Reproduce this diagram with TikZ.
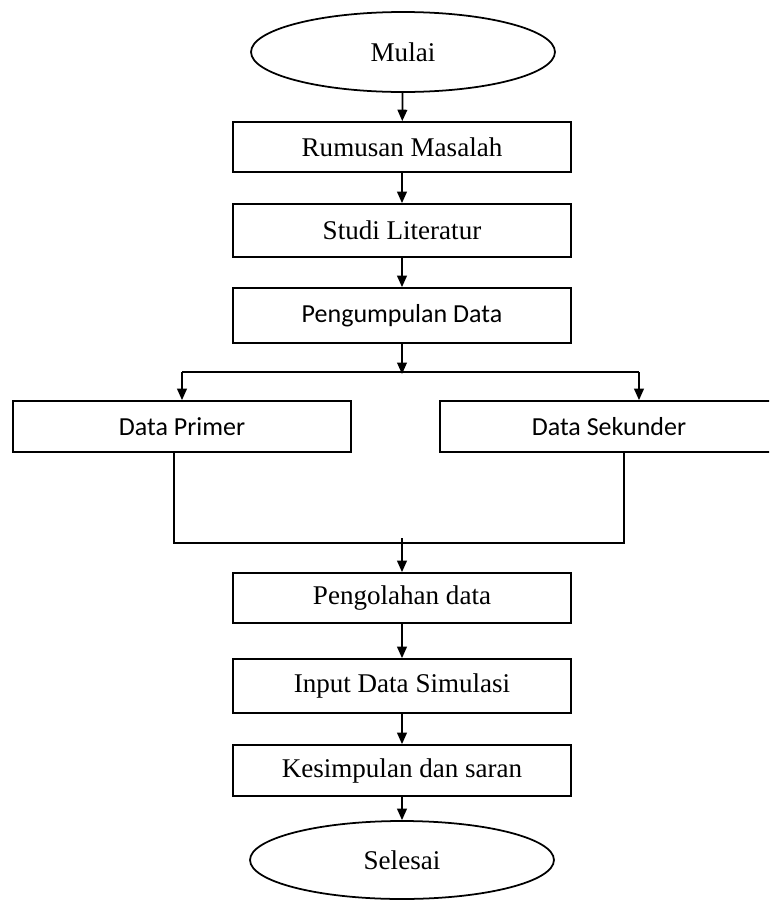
\documentclass[tikz,border=0pt]{standalone}
\usepackage{fontspec}
\setmainfont{Liberation Serif}
\newfontfamily\calibrifont{Carlito}
\usetikzlibrary{shapes,arrows.meta}
\tikzset{
  terminal/.style = {ellipse, draw, minimum width=6.08cm, minimum height=1.6cm, inner sep=0pt, font=\fontsize{15.4}{18}\selectfont},
  process/.style = {rectangle, draw, minimum width=6.76cm, minimum height=1cm, inner sep=0pt, font=\fontsize{15.4}{18}\selectfont},
  processsans/.style = {process, font=\calibrifont\fontsize{14.8}{18}\selectfont}
}
\tikzset{>={Triangle[length=6.5pt,width=5.5pt]}}

\begin{document}
\begin{tikzpicture}[x=0.02cm,y=-0.02cm,line width=1pt]
  \clip (0,0) rectangle (769,900);
  % start and main column
  \node (mulai) at (403,52) [terminal] {Mulai};
  \node (rumusan) at (402,147) [process] {Rumusan Masalah};
  \node (studi) at (402,230.5) [process, minimum height=1.06cm] {Studi Literatur};
  \node (kumpul) at (402,315.5) [processsans, minimum height=1.1cm] {Pengumpulan Data};
  % two kinds of data
  \node (primer) at (182,426.5) [processsans, minimum height=1.02cm] {Data Primer};
  \node (sekunder) at (609,426.5) [processsans, minimum height=1.02cm] {Data Sekunder};
  % rest of the column
  \node (olah) at (402,598) [process] {Pengolahan data};
  \node (input) at (402,686) [process, minimum height=1.08cm] {Input Data Simulasi};
  \node (simpul) at (402,770.5) [process, minimum height=1.02cm] {Kesimpulan dan saran};
  \node (selesai) at (402,860) [terminal, minimum height=1.56cm] {Selesai};
  % split and merge points
  \coordinate (split) at (402,374);
  \coordinate (splitL) at (182,372);
  \coordinate (splitR) at (639,372);
  \coordinate (mergeL) at (174,543);
  \coordinate (mergeR) at (624,543);
  \coordinate (merge) at (402,538);
  % arrows
  \draw[->] (mulai) -- (rumusan);
  \draw[->] (rumusan) -- (studi);
  \draw[->] (studi) -- (kumpul);
  \draw[->] (kumpul) -- (split);
  \draw (splitL) -- (splitR);
  \draw[->] (splitL) -- (primer);
  \draw[->] (splitR) -- (splitR |- sekunder.north);
  \draw (mergeL |- primer.south) -- (mergeL) -- (mergeR) -- (mergeR |- sekunder.south);
  \draw[->] (merge) -- (olah);
  \draw[->] (olah) -- (input);
  \draw[->] (input) -- (simpul);
  \draw[->] (simpul) -- (selesai);
\end{tikzpicture}
\end{document}
